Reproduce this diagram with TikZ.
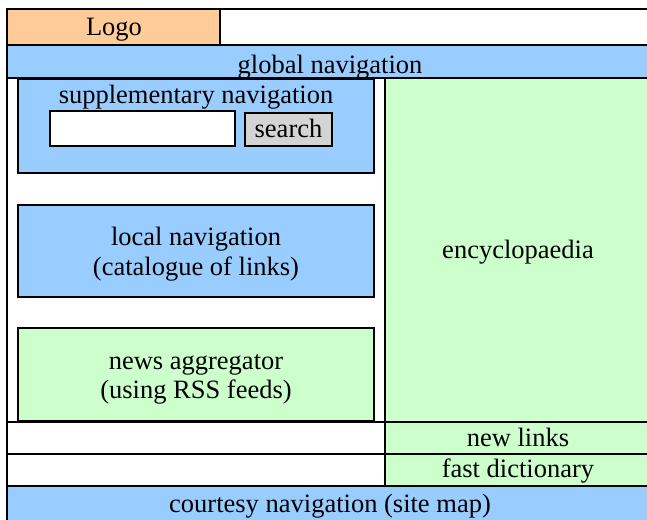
\documentclass[tikz,border=0pt]{standalone}
\usepackage{fontspec}
\setmainfont{Liberation Serif}
\definecolor{logoorange}{HTML}{FFCC99}
\definecolor{navblue}{HTML}{99CCFF}
\definecolor{paleg}{HTML}{CCFFCC}
\definecolor{btngray}{HTML}{D4D4D4}
\begin{document}
\begin{tikzpicture}[x=1pt,y=-1pt,
  cell/.style={draw=black,line width=2.6pt},
  lbl/.style={anchor=base,inner sep=0pt,font=\fontsize{26.5}{30}\selectfont,align=center}]
\useasboundingbox (0,0) rectangle (647,519);
\begin{scope}
\clip (0,0) rectangle (647,519);
% top rows
\draw[cell,fill=logoorange] (7,9) rectangle (220,45);
\draw[cell,fill=white] (220,9) rectangle (660,45);
\draw[cell,fill=navblue] (7,45) rectangle (660,78);
% main area
\draw[cell,fill=white] (7,78) rectangle (385,422);
\draw[cell,fill=paleg] (385,78) rectangle (660,422);
% boxes in left column
\draw[cell,fill=navblue] (18,79) rectangle (374,173);
\draw[cell,fill=white] (50,111) rectangle (235,146);
\draw[cell,fill=btngray] (245,113) rectangle (332,146);
\draw[cell,fill=navblue] (18,205) rectangle (374,297);
\draw[cell,fill=paleg] (18,328) rectangle (374,421);
% lower rows
\draw[cell,fill=white] (7,422) rectangle (385,454);
\draw[cell,fill=paleg] (385,422) rectangle (660,454);
\draw[cell,fill=white] (7,454) rectangle (385,486);
\draw[cell,fill=paleg] (385,454) rectangle (660,486);
\draw[cell,fill=navblue] (7,486) rectangle (660,530);
\end{scope}
% labels
\node[lbl] (logo) at (114,36) {Logo};
\node[lbl] (global) at (330,73) {global navigation};
\node[lbl] (supp) at (196,103) {supplementary navigation};
\node[lbl] (search) at (288.5,137) {search};
\node[lbl] (local1) at (196,245) {local navigation};
\node[lbl] (local2) at (196,275) {(catalogue of links)};
\node[lbl] (news1) at (196,369) {news aggregator};
\node[lbl] (news2) at (196,398) {(using RSS feeds)};
\node[lbl] (ency) at (518,258) {encyclopaedia};
\node[lbl] (newlinks) at (518,446) {new links};
\node[lbl] (dict) at (518,477) {fast dictionary};
\node[lbl] (courtesy) at (330,512) {courtesy navigation (site map)};
\end{tikzpicture}
\end{document}
